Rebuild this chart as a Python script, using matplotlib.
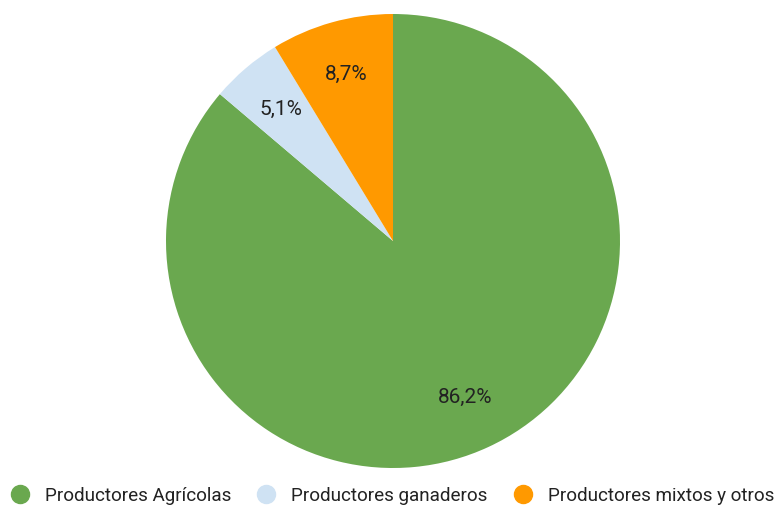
import matplotlib
matplotlib.use("Agg")
import matplotlib.pyplot as plt
from matplotlib.lines import Line2D

labels = ["Productores Agrícolas", "Productores ganaderos", "Productores mixtos y otros"]
values = [86.2, 5.1, 8.7]
colors = ["#6aa84f", "#cfe2f3", "#ff9900"]

plt.rcParams['font.family'] = ['Roboto', 'DejaVu Sans']

fig = plt.figure(figsize=(7.76, 5.05), dpi=100)
cx, cy, r = 393, 241, 227
ax = fig.add_axes([(cx - r) / 776, (505 - cy - r) / 505, 2 * r / 776, 2 * r / 505])

wedges, texts, autotexts = ax.pie(
    values, colors=colors, startangle=90, counterclock=False,
    autopct=lambda p: f"{p:.1f}%".replace(".", ","), pctdistance=0.76,
    wedgeprops=dict(linewidth=0),
    textprops=dict(fontsize=15, color="#222222"))
ax.set_xlim(-1, 1)
ax.set_ylim(-1, 1)
ax.set_aspect("equal")

handles = [Line2D([], [], marker="o", linestyle="", markersize=13,
                  markerfacecolor=c, markeredgecolor=c) for c in colors]
fig.legend(handles, labels, ncol=3, loc="center left", bbox_to_anchor=(-0.008, 0.018),
           frameon=False, fontsize=13.6, labelcolor="#222222",
           handletextpad=0.72, columnspacing=1.25, handlelength=1.2, borderaxespad=0.4)

fig.savefig("out.png", dpi=100)
